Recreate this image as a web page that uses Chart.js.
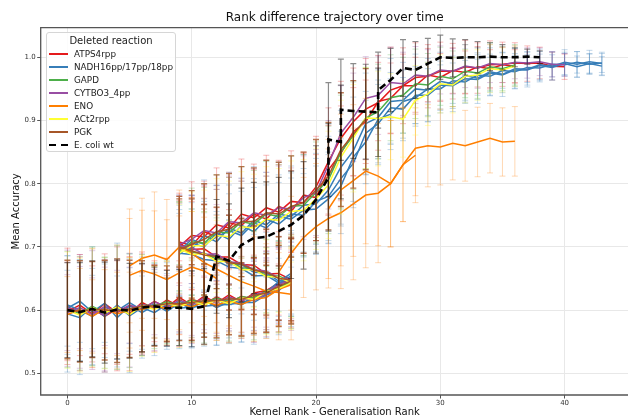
<!DOCTYPE html>
<html>
<head>
<meta charset="utf-8">
<script src="https://cdn.jsdelivr.net/npm/chart.js@4.4.1/dist/chart.umd.min.js"></script>
<style>
  html, body { margin: 0; padding: 0; background: #fff; overflow: hidden; }
  #wrap { position: relative; width: 628px; height: 420px; overflow: hidden; }
  #chart { position: absolute; left: 0; top: 0; }
  .legend { position: absolute; left: 46px; top: 32px; width: 128px; height: 118px;
            border: 1px solid #d6d6d6; border-radius: 3px; background: rgba(255,255,255,0.85);
            font-family: 'DejaVu Sans', sans-serif; color: #222; }
  .legend .ttl { position: absolute; left: 0; width: 100%; top: 2px; text-align: center; font-size: 10px; line-height: 12px; }
  .legend .row { position: absolute; left: 0; width: 100%; height: 12px; font-size: 8.8px; line-height: 12px; }
  .legend .swatch { position: absolute; left: 2px; top: 5px; width: 19px; height: 0; border-top: 2px solid; }
  .legend .dash { position: absolute; top: 5px; height: 0; border-top: 2.5px solid #000; }
  .legend .lbl { position: absolute; left: 27px; top: 0; white-space: nowrap; }
</style>
</head>
<body>
<div id="wrap">
  <canvas id="chart" width="640" height="420"></canvas>
  <div class="legend" id="legend"><div class="ttl">Deleted reaction</div></div>
</div>
<script>
// ---- axes ----
const xTicks = [0, 10, 20, 30, 40];
const yTicks = [0.5, 0.6, 0.7, 0.8, 0.9, 1.0];

// ---- reactions ----
const reactions = ['ATPS4rpp', 'NADH16pp/17pp/18pp', 'GAPD', 'CYTBO3_4pp', 'ENO', 'ACt2rpp', 'PGK'];
const reactionColors = ['#e41a1c', '#377eb8', '#4daf4a', '#984ea3', '#ff7f00', '#ffff33', '#a65628'];

// low band trajectories, x = 0..18
const atpLow   = [0.598,0.608,0.594,0.610,0.596,0.607,0.601,0.614,0.604,0.620,0.608,0.622,0.611,0.624,0.613,0.627,0.631,0.643,0.648];
const atpLow2  = [0.606,0.594,0.603,0.590,0.602,0.594,0.612,0.602,0.616,0.606,0.618,0.609,0.621,0.611,0.622,0.616,0.632,0.636,0.646];
const nadhLow  = [0.603,0.614,0.597,0.611,0.588,0.607,0.596,0.608,0.601,0.614,0.606,0.614,0.607,0.617,0.611,0.620,0.624,0.642,0.654];
const nadhLow2 = [0.594,0.588,0.606,0.590,0.608,0.591,0.604,0.596,0.609,0.603,0.605,0.606,0.608,0.609,0.612,0.612,0.624,0.631,0.648];
const nadhLow3 = [0.608,0.600,0.590,0.604,0.599,0.612,0.600,0.610,0.598,0.611,0.602,0.616,0.604,0.613,0.608,0.621,0.628,0.645,0.658];
const gapdLow  = [0.601,0.595,0.606,0.596,0.604,0.599,0.608,0.607,0.613,0.608,0.616,0.611,0.619,0.613,0.621,0.619,0.631,0.635,0.645];
const cytLow   = [0.596,0.604,0.593,0.606,0.597,0.608,0.602,0.613,0.605,0.616,0.609,0.619,0.611,0.621,0.614,0.625,0.628,0.641,0.647];
const cytLow2  = [0.603,0.598,0.600,0.592,0.605,0.600,0.609,0.604,0.611,0.606,0.613,0.608,0.617,0.610,0.619,0.615,0.626,0.634,0.642];
const enoLow   = [0.593,0.601,0.590,0.602,0.594,0.600,0.601,0.607,0.602,0.611,0.605,0.613,0.608,0.614,0.609,0.617,0.620,0.633,0.640];
const actLow   = [0.600,0.592,0.604,0.595,0.605,0.593,0.607,0.601,0.611,0.605,0.614,0.608,0.616,0.610,0.619,0.617,0.629,0.634,0.643];
const pgkLow   = [0.601,0.598,0.601,0.600,0.599,0.602,0.606,0.607,0.610,0.610,0.612,0.615,0.615,0.618,0.617,0.623,0.627,0.638,0.646];
const lowErr   = [0.078,0.080,0.076,0.079,0.082,0.077,0.072,0.064,0.060,0.058,0.060,0.058,0.059,0.057,0.058,0.060,0.062,0.064,0.068];
const lowErrB  = [0.060,0.065,0.058,0.062,0.066,0.060,0.058,0.052,0.050,0.050,0.049,0.050,0.048,0.050,0.049,0.052,0.055,0.058,0.060];
const lowErrC  = [0.092,0.090,0.094,0.088,0.098,0.090,0.080,0.068,0.066,0.064,0.065,0.063,0.064,0.062,0.063,0.066,0.068,0.070,0.074];

// descending middle trajectories, x = 9..18
const atpMid   = [0.705,0.696,0.697,0.684,0.684,0.672,0.671,0.657,0.658,0.648];
const nadhMid  = [0.696,0.692,0.688,0.686,0.672,0.672,0.660,0.659,0.646,0.647];
const nadhMid2 = [0.690,0.688,0.680,0.678,0.668,0.666,0.654,0.655,0.643,0.644];
const gapdMid  = [0.701,0.692,0.690,0.681,0.678,0.667,0.666,0.654,0.654,0.645];
const cytMid   = [0.702,0.699,0.688,0.689,0.676,0.675,0.664,0.662,0.651,0.649];
const actMid   = [0.697,0.688,0.689,0.677,0.677,0.664,0.664,0.653,0.652,0.643];
const pgkMid   = [0.700,0.694,0.687,0.685,0.675,0.673,0.663,0.660,0.650,0.648];
const midErr   = [0.080,0.082,0.080,0.078,0.075,0.072,0.070,0.068,0.066,0.065];
const midErrB  = [0.070,0.068,0.066,0.065,0.064,0.062,0.060,0.058,0.056,0.055];

// upper trajectories, x = 9..
const atpUp   = [0.700,0.718,0.716,0.735,0.730,0.752,0.746,0.762,0.755,0.772,0.770,0.795,0.835,0.872,0.898,0.918,0.928,0.948,0.955,0.968,0.970,0.978,0.978,0.985,0.983,0.988,0.989,0.991,0.990,0.991,0.986,0.985];
const atpUp2  = [0.708,0.702,0.724,0.716,0.738,0.734,0.752,0.744,0.764,0.756,0.782,0.778,0.822,0.848,0.882,0.898,0.930,0.935,0.955,0.955,0.972,0.968,0.979,0.976,0.985,0.982,0.988,0.986];
const nadhUp  = [0.688,0.706,0.700,0.722,0.712,0.734,0.724,0.744,0.736,0.752,0.750,0.772,0.780,0.808,0.832,0.880,0.895,0.920,0.918,0.940,0.940,0.956,0.955,0.966,0.965,0.975,0.972,0.980,0.980,0.987,0.984,0.990,0.985,0.990,0.986];
const nadhUp2 = [0.702,0.696,0.718,0.708,0.730,0.722,0.742,0.735,0.752,0.748,0.766,0.768,0.790,0.826,0.852,0.895,0.905,0.930,0.932,0.950,0.948,0.962,0.958,0.971,0.967,0.977,0.973,0.982,0.981,0.988,0.986,0.992,0.989,0.993,0.990];
const nadhUp3 = [0.694,0.712,0.704,0.716,0.726,0.718,0.738,0.730,0.748,0.744,0.758,0.760,0.776,0.796,0.842,0.866,0.902,0.910,0.930,0.936,0.950,0.950,0.963,0.961,0.972,0.970,0.979,0.977,0.984,0.983,0.989,0.988,0.992,0.989,0.991];
const gapdUp  = [0.692,0.708,0.706,0.724,0.722,0.740,0.736,0.752,0.748,0.764,0.766,0.786,0.806,0.850,0.876,0.904,0.914,0.936,0.940,0.958,0.956,0.970,0.966,0.978,0.975,0.985,0.982,0.988];
const cytUp   = [0.704,0.712,0.726,0.722,0.740,0.738,0.754,0.750,0.762,0.760,0.778,0.786,0.830,0.880,0.905,0.935,0.940,0.960,0.958,0.972,0.970,0.980,0.978,0.986,0.983,0.990,0.988,0.992,0.991,0.993,0.989,0.988];
const actUp   = [0.690,0.702,0.702,0.718,0.716,0.732,0.730,0.744,0.742,0.756,0.758,0.776,0.798,0.842,0.872,0.904,0.903,0.906,0.902,0.932,0.942,0.958,0.956,0.970,0.972,0.982,0.980,0.986];
const pgkUp   = [0.696,0.704,0.712,0.724,0.728,0.740,0.740,0.754,0.752,0.764,0.770,0.790,0.812,0.854,0.878,0.902];
const upErr   = [0.080,0.085,0.088,0.090,0.088,0.087,0.085,0.083,0.082,0.080,0.080,0.080,0.085,0.090,0.085,0.080,0.075,0.068,0.060,0.055,0.050,0.046,0.044,0.042,0.040,0.038,0.035,0.032,0.028,0.025,0.022,0.020,0.020,0.018,0.018];
const upErrB  = [0.065,0.070,0.072,0.075,0.072,0.070,0.070,0.068,0.066,0.065,0.066,0.068,0.070,0.075,0.070,0.066,0.062,0.056,0.050,0.045,0.042,0.038,0.036,0.034,0.032,0.030,0.028,0.026,0.024,0.022,0.020,0.018,0.017,0.016,0.015];

// ENO's own trajectories
const enoMid    = [0.670,0.682,0.687,0.680,0.700,0.690,0.675,0.665,0.655,0.645,0.638,0.630,0.628,0.625]; // x = 5..18
const enoMid2   = [0.655,0.663,0.657,0.648,0.659,0.668,0.662,0.650];                                     // x = 5..12
const enoMidErr = [0.090,0.095,0.100,0.095,0.090,0.088,0.085,0.085,0.080,0.080,0.078,0.075,0.075,0.072];
const enoUp     = [0.660,0.690,0.715,0.732,0.745,0.754,0.768,0.782,0.785,0.800,0.830,0.856,0.860,0.858,0.864,0.860,0.866,0.872,0.866,0.867]; // x = 17..36
const enoUp2    = [0.760,0.790,0.805,0.820,0.812,0.800,0.830,0.845];                                     // x = 21..28
const enoUpErr  = [0.085,0.090,0.095,0.100,0.110,0.120,0.120,0.115,0.110,0.100,0.090,0.075,0.065,0.060,0.058,0.056,0.055,0.055,0.054,0.055];

// E. coli wild type
const wtX   = [0,1,2,3,4,5,6,7,8,9,10,11,12,13,14,15,16,17,18,19,20,21,21,22,22,23,24,25,25,26,27,28,29,30,31,32,33,34,35,36,37,38];
const wtY   = [0.600,0.597,0.602,0.596,0.601,0.599,0.604,0.606,0.603,0.604,0.602,0.606,0.685,0.678,0.703,0.714,0.716,0.725,0.735,0.750,0.775,0.810,0.870,0.866,0.917,0.915,0.914,0.913,0.948,0.964,0.983,0.980,0.990,1.000,0.999,1.000,1.000,1.001,1.000,1.000,1.001,1.000];
const wtErr = [0.075,0.078,0.076,0.080,0.078,0.075,0.070,0.062,0.060,0.060,0.060,0.060,0.090,0.090,0.090,0.088,0.087,0.085,0.085,0.085,0.085,0.085,0.090,0.090,0.080,0.075,0.075,0.070,0.060,0.050,0.045,0.045,0.040,0.035,0.030,0.028,0.025,0.022,0.020,0.015,0.012,0.010];

// [reaction, first x, values, errors]
const trajectories = [
  [0, 0, atpLow, lowErr], [0, 0, atpLow2, lowErrC], [0, 9, atpMid, midErr], [0, 9, atpUp, upErr], [0, 9, atpUp2, upErrB],
  [1, 0, nadhLow, lowErrB], [1, 0, nadhLow2, lowErrC], [1, 0, nadhLow3, lowErr], [1, 9, nadhMid, midErrB], [1, 9, nadhMid2, midErr],
  [1, 9, nadhUp, upErrB], [1, 9, nadhUp2, upErr], [1, 9, nadhUp3, upErrB],
  [2, 0, gapdLow, lowErrC], [2, 9, gapdMid, midErrB], [2, 9, gapdUp, upErr],
  [3, 0, cytLow, lowErrB], [3, 0, cytLow2, lowErrC], [3, 9, cytMid, midErr], [3, 9, cytUp, upErrB],
  [4, 0, enoLow, lowErrB], [4, 5, enoMid, enoMidErr], [4, 5, enoMid2, enoMidErr], [4, 17, enoUp, enoUpErr], [4, 21, enoUp2, enoUpErr.slice(4)],
  [5, 0, actLow, lowErrC], [5, 9, actMid, midErrB], [5, 9, actUp, upErr],
  [6, 0, pgkLow, lowErr], [6, 9, pgkMid, midErr], [6, 9, pgkUp, upErr]
];

function rgba(hex, a) {
  const n = parseInt(hex.slice(1), 16);
  return `rgba(${n >> 16}, ${(n >> 8) & 255}, ${n & 255}, ${a})`;
}

const datasets = trajectories.map(([r, x0, vals, errs], i) => ({
  label: reactions[r],
  data: vals.map((v, k) => ({ x: x0 + k, y: v })),
  err: errs,
  errColor: rgba(reactionColors[r], r === 6 ? 0.8 : 0.3),
  errWidth: r === 6 ? 1.4 : 1,
  borderColor: reactionColors[r],
  borderWidth: 1.5,
  showLine: true,
  pointRadius: 0,
  order: -i
}));

datasets.push({
  label: 'E. coli wt',
  data: wtX.map((x, k) => ({ x: x, y: wtY[k] })),
  err: wtErr,
  errColor: 'rgba(0, 0, 0, 0.45)',
  errWidth: 1.2,
  borderColor: '#000',
  borderWidth: 2.6,
  borderDash: [7, 4],
  showLine: true,
  pointRadius: 0,
  order: -1000
});

// error bars with caps, drawn just under each series' own line
const errorBarPlugin = {
  id: 'errorBars',
  beforeDatasetDraw(chart, args) {
    const ds = chart.data.datasets[args.index];
    if (!ds.err) return;
    const { ctx, chartArea: a, scales: { y } } = chart;
    ctx.save();
    ctx.beginPath();
    ctx.rect(a.left, a.top, a.right - a.left, a.bottom - a.top);
    ctx.clip();
    ctx.strokeStyle = ds.errColor;
    ctx.lineWidth = ds.errWidth;
    args.meta.data.forEach((pt, i) => {
      const v = ds.data[i].y, e = ds.err[i];
      const top = y.getPixelForValue(v + e), bot = y.getPixelForValue(v - e);
      ctx.beginPath();
      ctx.moveTo(pt.x, top); ctx.lineTo(pt.x, bot);
      ctx.moveTo(pt.x - 3, top); ctx.lineTo(pt.x + 3, top);
      ctx.moveTo(pt.x - 3, bot); ctx.lineTo(pt.x + 3, bot);
      ctx.stroke();
    });
    ctx.restore();
  }
};

// axes frame (left, top, bottom) and the title
const framePlugin = {
  id: 'frame',
  afterDatasetsDraw(chart) {
    const { ctx, chartArea: a } = chart;
    ctx.save();
    ctx.strokeStyle = '#555';
    ctx.lineWidth = 1.3;
    ctx.beginPath();
    ctx.moveTo(a.right + 2, a.top); ctx.lineTo(a.left, a.top);
    ctx.lineTo(a.left, a.bottom); ctx.lineTo(a.right + 2, a.bottom);
    ctx.stroke();
    ctx.font = '12px "DejaVu Sans"';
    ctx.fillStyle = '#111';
    ctx.textAlign = 'center';
    ctx.textBaseline = 'middle';
    ctx.fillText('Rank difference trajectory over time', (a.left + a.right) / 2, 17.5);
    ctx.restore();
  }
};

const tickFont = { family: 'DejaVu Sans', size: 7 };
const labelFont = { family: 'DejaVu Sans', size: 10 };

new Chart(document.getElementById('chart'), {
  type: 'scatter',
  data: { datasets },
  options: {
    responsive: false,
    animation: false,
    devicePixelRatio: 1,
    layout: { padding: { left: 0, right: 11.4, top: 27.7, bottom: 0 } },
    plugins: { legend: { display: false }, tooltip: { enabled: false } },
    scales: {
      x: {
        type: 'linear', min: -2.15, max: 45.15,
        afterBuildTicks: s => { s.ticks = xTicks.map(v => ({ value: v })); },
        afterFit: s => { s.height = 25; },
        grid: { color: '#e8e8e8', lineWidth: 1, tickLength: 3.5, tickColor: '#555' },
        border: { display: false },
        ticks: { font: tickFont, color: '#333', padding: 0, maxRotation: 0, callback: v => v },
        title: { display: true, text: 'Kernel Rank - Generalisation Rank', font: labelFont, color: '#111', padding: { top: 0, bottom: 2 } }
      },
      y: {
        type: 'linear', min: 0.4657, max: 1.0468,
        afterBuildTicks: s => { s.ticks = yTicks.map(v => ({ value: v })); },
        afterFit: s => { s.width = 40.7; },
        grid: { color: '#e8e8e8', lineWidth: 1, tickLength: 3.5, tickColor: '#555' },
        border: { display: false },
        ticks: { font: tickFont, color: '#333', padding: 1.5, callback: v => v.toFixed(1) },
        title: { display: true, text: 'Mean Accuracy', font: labelFont, color: '#111', padding: { top: 10, bottom: 0 } }
      }
    }
  },
  plugins: [errorBarPlugin, framePlugin]
});

// legend inside the axes
const legend = document.getElementById('legend');
const legendRowTop = 15.3;
const legendRowStep = 12.9;
reactions.concat(['E. coli wt']).forEach((name, i) => {
  const row = document.createElement('div');
  row.className = 'row';
  row.style.top = (legendRowTop + i * legendRowStep) + 'px';
  if (i < reactions.length) {
    row.innerHTML = `<div class="swatch" style="border-color:${reactionColors[i]}"></div><div class="lbl">${name}</div>`;
  } else {
    row.innerHTML = `<div class="dash" style="left:2px;width:7px"></div><div class="dash" style="left:14px;width:7px"></div><div class="lbl">${name}</div>`;
  }
  legend.appendChild(row);
});
</script>
</body>
</html>
